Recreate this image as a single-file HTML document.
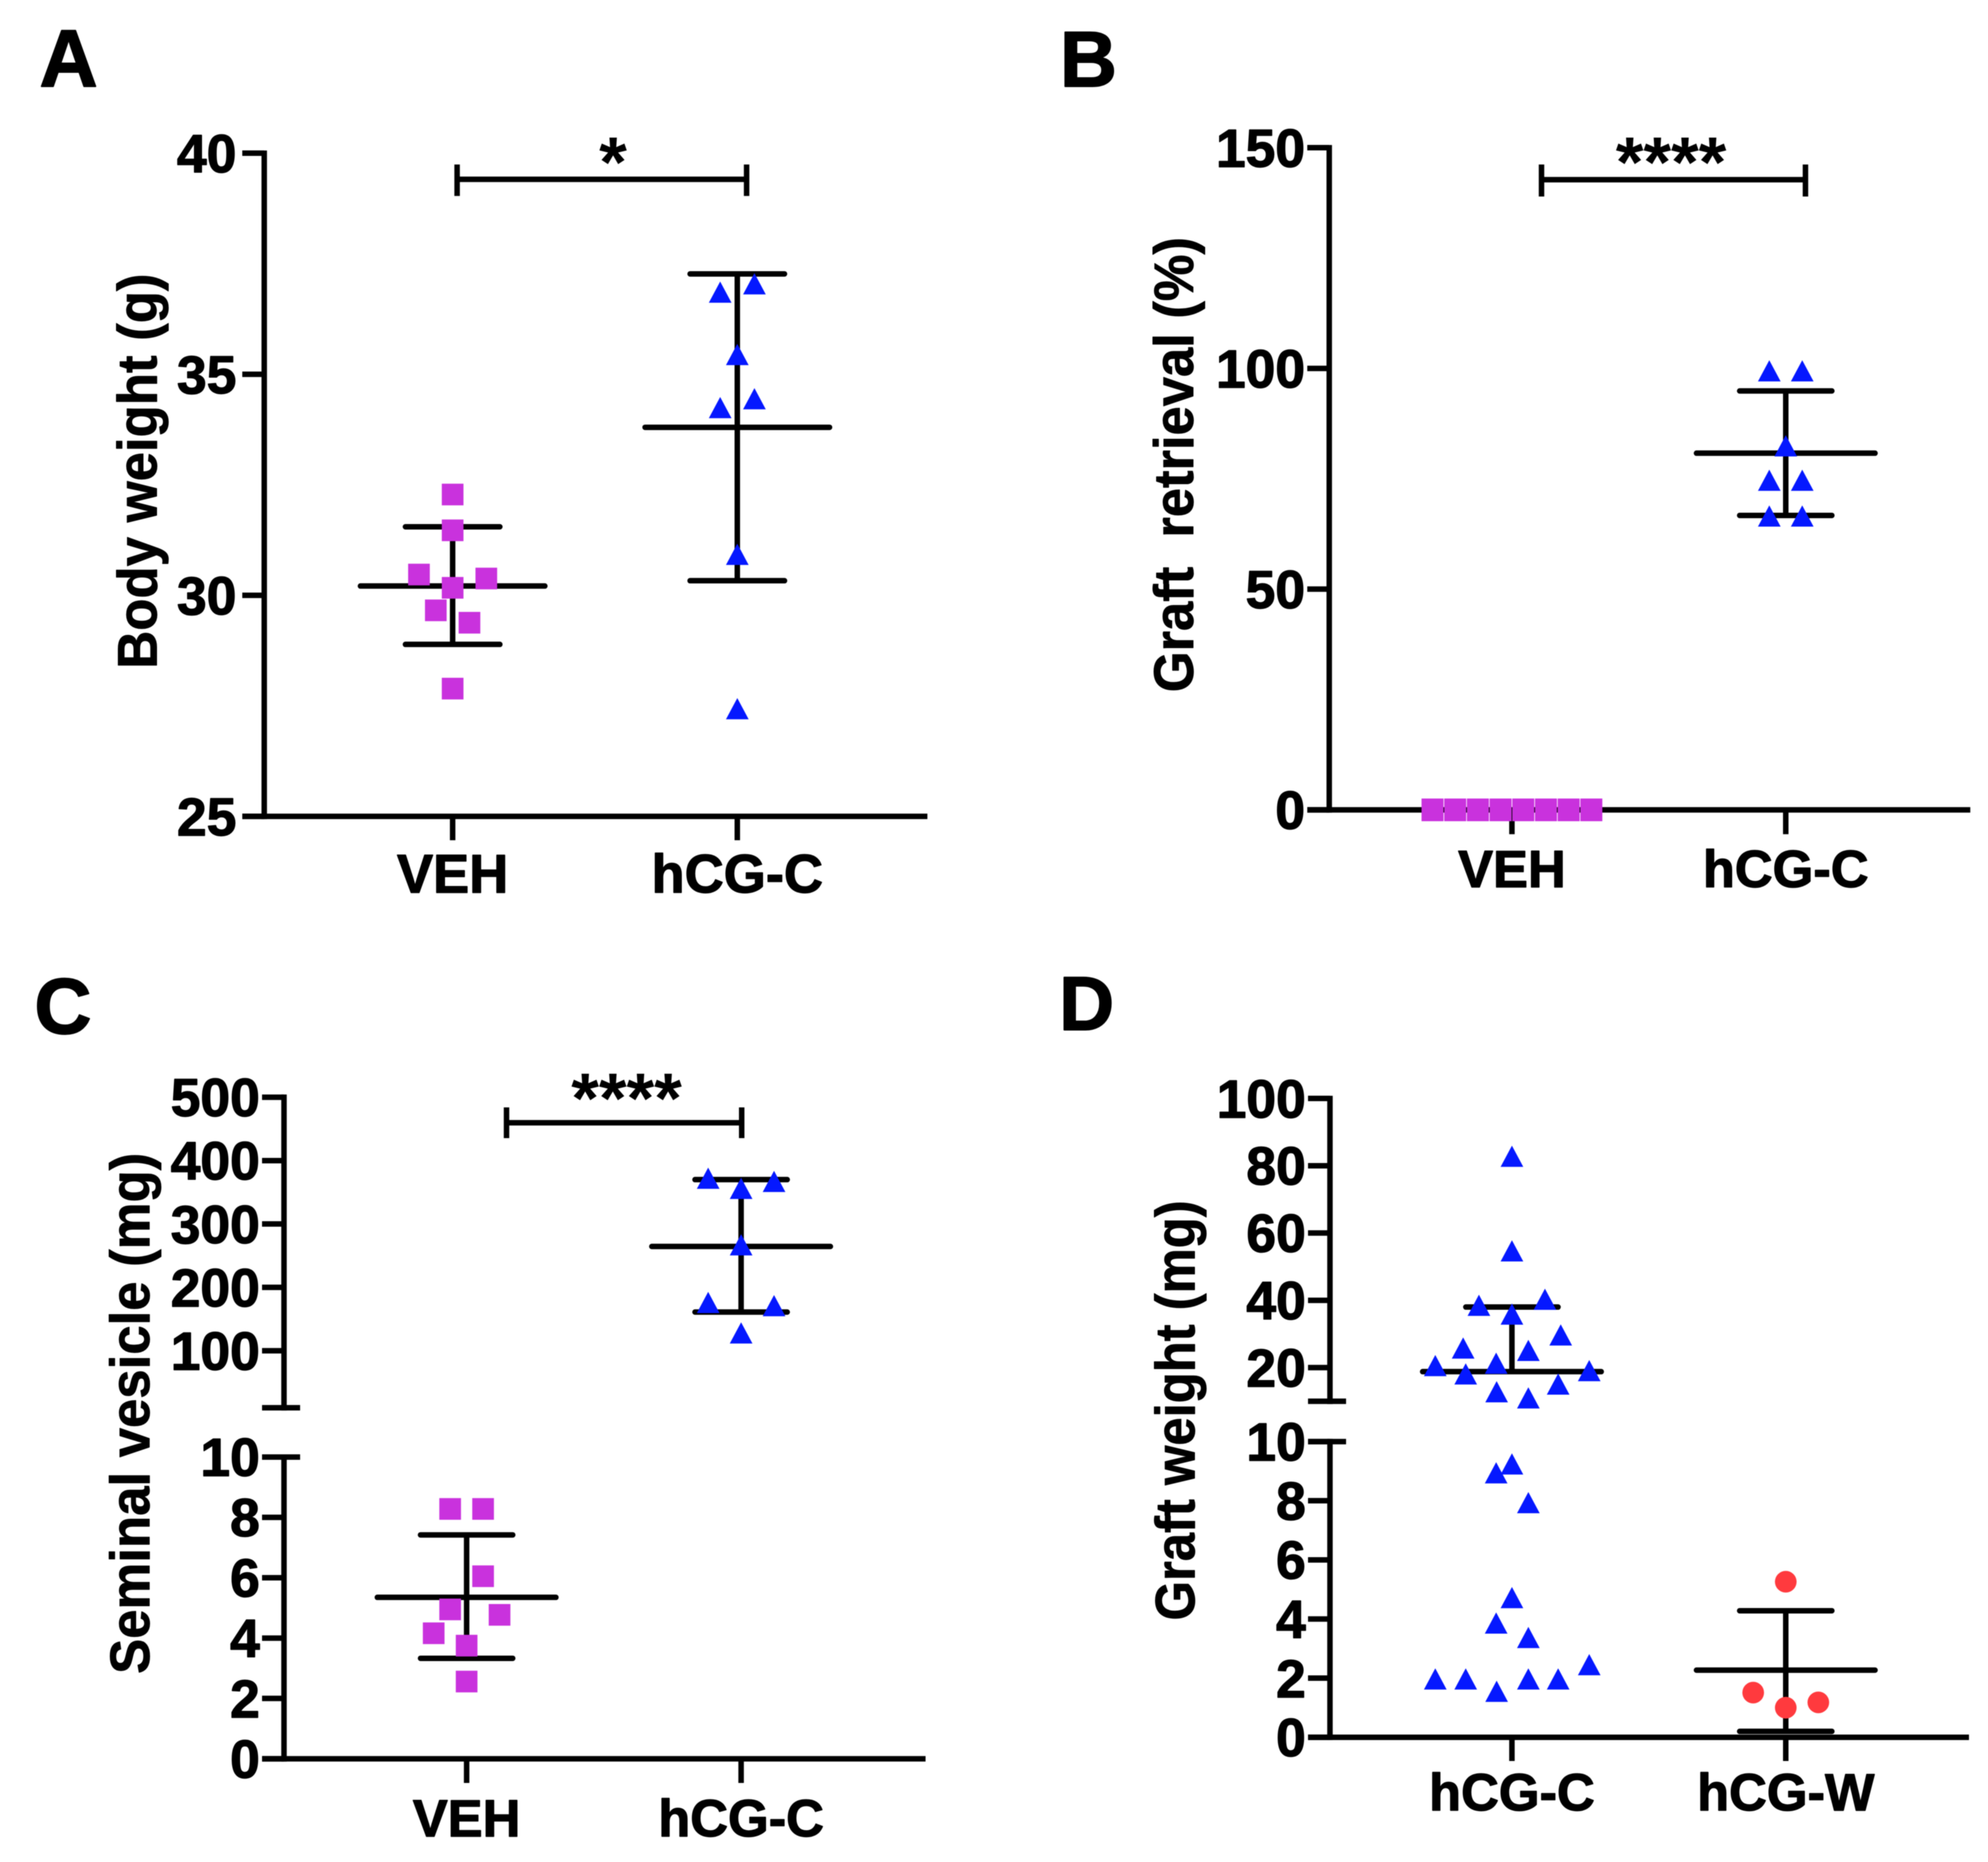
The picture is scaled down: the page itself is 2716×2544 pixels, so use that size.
<!DOCTYPE html>
<html lang="en">
<head>
<meta charset="utf-8">
<title>Four-panel dot plots</title>
<style>
html,body{margin:0;padding:0;background:#fff;}
svg{display:block;filter:blur(0.6px);}
text{font-family:"Liberation Sans",Arial,sans-serif;font-weight:700;fill:#000;white-space:pre;stroke:#000;stroke-width:1.5px;stroke-linejoin:round;}
</style>
</head>
<body>
<svg id="figure" xmlns="http://www.w3.org/2000/svg" width="2716" height="2544" viewBox="0 0 2716 2544">
  <rect x="0" y="0" width="2716" height="2544" fill="#fff"/>
  <g id="panelA">
    <text x="54" y="118" font-size="110" style="stroke-width:2px">A</text>
    <text transform="translate(214 643.7) rotate(-90)" text-anchor="middle" font-size="76" textLength="540" lengthAdjust="spacingAndGlyphs" style="stroke-width:1px">Body weight (g)</text>
  </g>
  <g id="panelB">
    <text x="1448" y="118" font-size="108" style="stroke-width:2px">B</text>
    <text transform="translate(1630 634.8) rotate(-90)" text-anchor="middle" font-size="76" textLength="622" lengthAdjust="spacingAndGlyphs" style="stroke-width:1px">Graft  retrieval (%)</text>
  </g>
  <g id="panelC">
    <text x="47" y="1412" font-size="108" style="stroke-width:2px">C</text>
    <text transform="translate(204 1931) rotate(-90)" text-anchor="middle" font-size="76" textLength="712" lengthAdjust="spacingAndGlyphs" style="stroke-width:1px">Seminal vesicle (mg)</text>
  </g>
  <g id="panelD">
    <text x="1447" y="1407" font-size="104" style="stroke-width:2px">D</text>
    <text transform="translate(1632 1927) rotate(-90)" text-anchor="middle" font-size="76" textLength="574" lengthAdjust="spacingAndGlyphs" style="stroke-width:1px">Graft weight (mg)</text>
  </g>
</svg>
<script>
// ---------- Panel A data ----------
const aCategories = ['VEH', 'hCG-C'];
const aTickLabels = [25, 30, 35, 40];
const aVehValues = [32.28, 31.47, 30.47, 30.38, 30.17, 29.66, 29.38, 27.89];
const aVehSlots = [0, 0, -2, 2, 0, -1, 1, 0];
const aVehSummary = [28.89, 30.21, 31.55];
const aHcgValues = [37.03, 36.84, 35.43, 34.43, 34.23, 30.91, 27.42];
const aHcgSlots = [1, -1, 0, 1, -1, 0, 0];
const aHcgSummary = [30.33, 33.8, 37.27];
const aSignificance = ['*'];

// ---------- Panel B data ----------
const bCategories = ['VEH', 'hCG-C'];
const bTickLabels = [0, 50, 100, 150];
const bVehValues = [0, 0, 0, 0, 0, 0, 0, 0];
const bVehSlots = [-3.5, -2.5, -1.5, -0.5, 0.5, 1.5, 2.5, 3.5];
const bHcgValues = [99.3, 99.3, 82.3, 74.5, 74.5, 66.4, 66.4];
const bHcgSlots = [-1, 1, 0, -1, 1, -1, 1];
const bHcgSummary = [66.7, 80.8, 94.9];
const bSignificance = ['****'];

// ---------- Panel C data ----------
const cCategories = ['VEH', 'hCG-C'];
const cLowerTickLabels = [0, 2, 4, 6, 8, 10];
const cUpperTickLabels = [100, 200, 300, 400, 500];
const cVehValues = [8.28, 8.28, 6.05, 4.95, 4.77, 4.16, 3.75, 2.56];
const cVehSlots = [-1, 1, 1, -1, 2, -2, 0, 0];
const cVehSummary = [3.33, 5.35, 7.42];
const cHcgValues = [371, 366, 355, 266, 175, 170, 127];
const cHcgSlots = [-2, 2, 0, 0, -2, 2, 0];
const cHcgSummary = [161, 264.5, 370];
const cSignificance = ['****'];

// ---------- Panel D data ----------
const dCategories = ['hCG-C', 'hCG-W'];
const dLowerTickLabels = [0, 2, 4, 6, 8, 10];
const dUpperTickLabels = [20, 40, 60, 80, 100];
const dHcgValues = [82.6, 54.5, 40.1, 38.3, 35.7, 29.5, 25.6, 24.9, 21.1, 20.4, 18.9, 17.9, 14.9, 12.6, 10.8, 9.22, 8.92, 7.91, 4.7, 3.84, 3.35, 2.43, 1.95, 1.95, 1.95, 1.95, 1.53];
const dHcgSlots = [0, 0, 2.05, -2.05, 0, 3.03, -3.03, 1.02, -0.98, -4.76, 4.8, -2.87, 2.87, -0.95, 1.02, 0, -0.98, 1.02, 0, -0.98, 1.02, 4.8, -4.76, -2.87, 1.02, 2.87, -0.95];
const dHcgSummary = [null, 18.8, 38];
const dHcwValues = [5.26, 1.51, 1.18, 1.0];
const dHcwSlots = [0, -1, 1, 0];
const dHcwSummary = [0.2, 2.27, 4.28];

// ---------- Helpers ----------
const NS = 'http://www.w3.org/2000/svg';
const STROKE = 7.5;
const MAGENTA = '#c932dd';
const BLUE = '#0518ff';
const RED = '#ff3a3e';

function linear(d0, d1, r0, r1) {
  return function (v) { return r0 + (v - d0) * (r1 - r0) / (d1 - d0); };
}
function broken(breakValue, lower, upper) {
  return function (v) { return v <= breakValue ? lower(v) : upper(v); };
}
function make(parent, tag, attrs, content) {
  const el = document.createElementNS(NS, tag);
  Object.keys(attrs).forEach(function (k) { el.setAttribute(k, attrs[k]); });
  if (content !== undefined) el.textContent = content;
  parent.appendChild(el);
  return el;
}
function rule(parent, x1, y1, x2, y2) {
  return make(parent, 'line', { x1: x1, y1: y1, x2: x2, y2: y2, stroke: '#000', 'stroke-width': STROKE });
}
function roundRule(parent, x1, y1, x2, y2) {
  return make(parent, 'line', { x1: x1 + 3, y1: y1, x2: x2 - 3, y2: y2, stroke: '#000', 'stroke-width': STROKE, 'stroke-linecap': 'round' });
}
function drawYTicks(parent, axisX, scale, labels, labelOffset, labelGap) {
  labels.forEach(function (label) {
    const y = scale(label);
    const tick = rule(parent, axisX - 30, y, axisX, y);
    
    
    const text = make(parent, 'text', { x: axisX - labelGap, y: y + labelOffset, 'text-anchor': 'end', 'font-size': 73 }, String(label));
    
    
  });
}
function drawYSpine(parent, axisX, yTop, yBottom) {
  const spine = rule(parent, axisX, yTop - 3.7, axisX, yBottom + 3.7);
  
  
}
function drawBreakCap(parent, axisX, y) {
  const cap = rule(parent, axisX - 30, y, axisX + 22, y);
  
  
}
function drawXAxis(parent, x0, x1, y, tickEnd, categories, xScale, labelBaseline, labelSize) {
  const axis = rule(parent, x0, y, x1, y);
  
  
  categories.forEach(function (cat, i) {
    const tick = rule(parent, xScale(i), y, xScale(i), tickEnd);
    
    
    const text = make(parent, 'text', { x: xScale(i), y: labelBaseline, 'text-anchor': 'middle', 'font-size': labelSize }, cat);
    
    
  });
}
function drawSummary(parent, cx, y, summary, capHalf, meanHalf) {
  const lower = summary[0], mean = summary[1], upper = summary[2];
  const stem = rule(parent, cx, y(upper), cx, y(lower === null ? mean : lower));
  
  
  const meanLine = roundRule(parent, cx - meanHalf, y(mean), cx + meanHalf, y(mean));
  
  
  const upperCap = roundRule(parent, cx - capHalf, y(upper), cx + capHalf, y(upper));
  
  
  if (lower !== null) {
    const lowerCap = roundRule(parent, cx - capHalf, y(lower), cx + capHalf, y(lower));
    
    
  }
}
function drawPoints(parent, seriesName, shape, values, slots, cx, slotWidth, y) {
  values.forEach(function (v, i) {
    const px = cx + slots[i] * slotWidth;
    const py = y(v);
    let mark;
    if (shape === 'square') {
      mark = make(parent, 'rect', { x: px - 14.8, y: py - 14.8, width: 29.6, height: 29.6, fill: MAGENTA });
    } else if (shape === 'wide-square') {
      mark = make(parent, 'rect', { x: px - 15, y: py - 15.5, width: 30, height: 31, fill: MAGENTA });
    } else if (shape === 'triangle') {
      const pts = [px, py - 15.5, px - 15.5, py + 13.5, px + 15.5, py + 13.5].join(' ');
      mark = make(parent, 'polygon', { points: pts, fill: BLUE });
    } else {
      mark = make(parent, 'circle', { cx: px, cy: py, r: 14.8, fill: RED });
    }
    
    
  });
}
function drawBracket(parent, x0, x1, y, capTop, capBottom, textX, textBaseline, stars) {
  const bar = rule(parent, x0, y, x1, y);
  
  
  const left = rule(parent, x0, capTop, x0, capBottom);
  
  
  const right = rule(parent, x1, capTop, x1, capBottom);
  
  
  const label = make(parent, 'text', { x: textX, y: textBaseline, 'text-anchor': 'middle', 'font-size': 97, style: 'stroke-width:0' }, stars);
  
  
}

// ---------- Panel A ----------
(function () {
  const g = document.getElementById('panelA');
  const y = linear(25, 40, 1115.4, 209.3);
  const x = linear(0, 1, 618.4, 1007.3);
  drawYSpine(g, 361, y(40), y(25));
  drawYTicks(g, 361, y, aTickLabels, 26, 38);
  drawXAxis(g, 331, 1267, y(25), 1148, aCategories, x, 1219.3, 74);
  drawSummary(g, x(0), y, aVehSummary, 67.5, 129);
  drawSummary(g, x(1), y, aHcgSummary, 67.5, 129);
  drawPoints(g, 'veh', 'square', aVehValues, aVehSlots, x(0), 23, y);
  drawPoints(g, 'hcg-c', 'triangle', aHcgValues, aHcgSlots, x(1), 23.4, y);
  drawBracket(g, 624.5, 1020, 245, 224.7, 267.7, 837.5, 255, aSignificance[0]);
})();

// ---------- Panel B ----------
(function () {
  const g = document.getElementById('panelB');
  const y = linear(0, 150, 1106.5, 201.8);
  const x = linear(0, 1, 2065.6, 2439.7);
  drawYSpine(g, 1816, y(150), y(0));
  drawYTicks(g, 1816, y, bTickLabels, 26, 33);
  drawXAxis(g, 1786, 2691.8, y(0), 1139.8, bCategories, x, 1212, 71.5);
  drawSummary(g, x(1), y, bHcgSummary, 66, 125);
  drawPoints(g, 'veh', 'wide-square', bVehValues, bVehSlots, x(0), 31, y);
  drawPoints(g, 'hcg-c', 'triangle', bHcgValues, bHcgSlots, x(1), 22.5, y);
  drawBracket(g, 2106, 2466.6, 245.5, 224.7, 268.5, 2283, 255, bSignificance[0]);
})();

// ---------- Panel C ----------
(function () {
  const g = document.getElementById('panelC');
  const lower = linear(0, 10, 2403, 1990.7);
  const upper = linear(10, 500, 1923.4, 1499.1);
  const y = broken(10, lower, upper);
  const x = linear(0, 1, 637.5, 1012.5);
  drawYSpine(g, 388, upper(500), upper(10));
  drawYSpine(g, 388, lower(10), lower(0));
  drawYTicks(g, 388, lower, cLowerTickLabels, 26, 33);
  drawYTicks(g, 388, upper, cUpperTickLabels, 26, 33);
  drawBreakCap(g, 388, upper(10));
  drawBreakCap(g, 388, lower(10));
  drawXAxis(g, 358, 1264.5, lower(0), 2436, cCategories, x, 2509, 71.5);
  drawSummary(g, x(0), y, cVehSummary, 66, 125);
  drawSummary(g, x(1), y, cHcgSummary, 66, 125);
  drawPoints(g, 'veh', 'square', cVehValues, cVehSlots, x(0), 22.5, y);
  drawPoints(g, 'hcg-c', 'triangle', cHcgValues, cHcgSlots, x(1), 22.5, y);
  drawBracket(g, 692, 1013.3, 1534, 1513, 1555, 856, 1534, cSignificance[0]);
})();

// ---------- Panel D ----------
(function () {
  const g = document.getElementById('panelD');
  const lower = linear(0, 10, 2373.6, 1969.6);
  const upper = linear(10, 100, 1914.5, 1500.8);
  const y = broken(10, lower, upper);
  const x = linear(0, 1, 2065.6, 2439.7);
  drawYSpine(g, 1817, upper(100), upper(10));
  drawYSpine(g, 1817, lower(10), lower(0));
  drawYTicks(g, 1817, lower, dLowerTickLabels, 26, 33);
  drawYTicks(g, 1817, upper, dUpperTickLabels, 26, 33);
  drawBreakCap(g, 1817, upper(10));
  drawBreakCap(g, 1817, lower(10));
  drawXAxis(g, 1787, 2690, lower(0), 2406, dCategories, x, 2473.4, 71.5);
  drawSummary(g, x(0), y, dHcgSummary, 66, 125);
  drawSummary(g, x(1), y, dHcwSummary, 66, 125);
  drawPoints(g, 'hcg-c', 'triangle', dHcgValues, dHcgSlots, x(0), 22, y);
  drawPoints(g, 'hcg-w', 'circle', dHcwValues, dHcwSlots, x(1), 44.5, y);
})();
</script>
</body>
</html>
